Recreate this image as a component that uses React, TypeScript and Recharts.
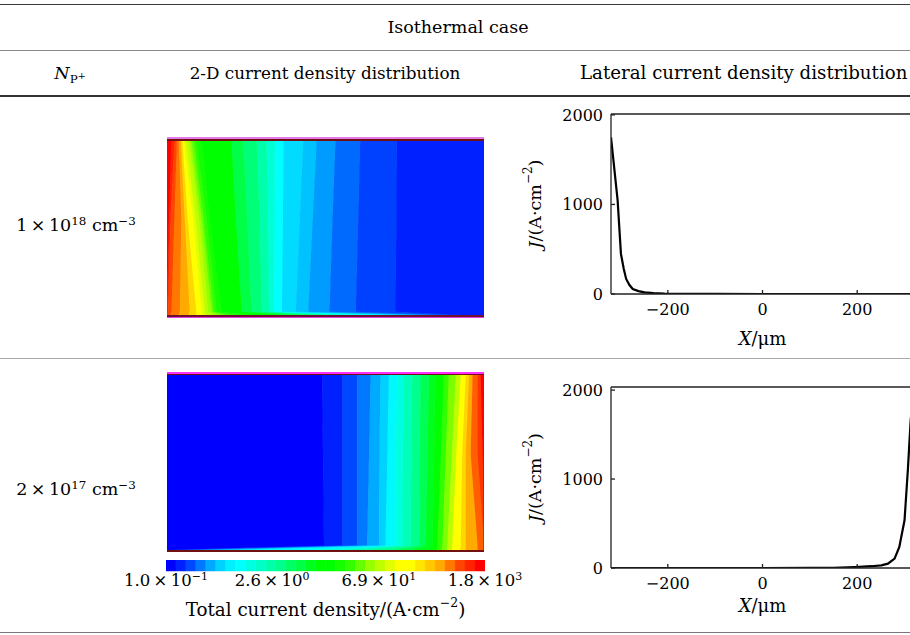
import React from 'react';
import { ComposedChart, BarChart, Area, Bar, Line, XAxis, YAxis, ReferenceLine } from 'recharts';

const SERIF = '"DejaVu Serif", serif';
const INK = '#222';

// contour colour scale, lowest level (blue) first
const LEVEL_COLORS = [
  '#0000ff', '#0020ff', '#0048ff', '#0078ff', '#00aaff', '#00d2ff', '#00f0ff', '#00ffff',
  '#00ffe0', '#00ffc8', '#00ffaa', '#00ff8c', '#00ff64', '#00ff46', '#00ff1e', '#00ff00',
  '#00ff00', '#14ff00', '#32ff00', '#64ff00', '#96ff00', '#beff00', '#e1ff00', '#ffff00',
  '#ffff00', '#ffe600', '#ffc800', '#ffaa00', '#ff7800', '#ff4600', '#ff2300', '#ff0000',
];

// colour bar (A/cm^2, log scale)
const BAR_MIN = 0.1;
const BAR_MAX = 1800;
const BAR_TICKS = [0.1, 2.6, 69, 1800];
const BAR_MANTISSA = ['1.0', '2.6', '6.9', '1.8'];
const BAR_EXPONENT = ['−1', '0', '1', '3'];

// lateral current density, X in um, J in A/cm^2
const X_TICKS = [-200, 0, 200];
const J_TICKS = [0, 1000, 2000];
const X_HIGH = [-320, -306, -299, -293, -288, -281, -274, -262, -249, -230, -207, -180, -150, -100, 0, 100, 200, 320];
const J_HIGH = [1750, 1046, 448, 280, 168, 100, 56, 32, 18, 10, 5, 3, 2, 1, 0, 0, 0, 0];
const X_LOW = [-320, -200, 0, 100, 150, 195, 230, 251, 265, 279, 289, 300, 307, 313, 320];
const J_LOW = [0, 0, 0, 1, 3, 11, 20, 30, 49, 106, 236, 537, 1100, 1663, 2000];

// 2-D maps: depth from top (0) to bottom contact (1)
const DEPTH = [0, 0.45, 0.975, 1];
const HALF = 320;

// N = 1e18: band levels left -> right, right edge of each band (um) per depth row
const MAP1_LEVELS = [31, 30, 29, 28, 27, 25.5, 24, 22, 21, 20, 19, 18, 17, 15.5, 13, 11.5, 10, 8.5, 7, 5.3, 4.6, 3.7, 2.7, 1.8, 1];
const MAP1_EDGES = [
  [-311, -305, -300, -296, -292, -289, -286, -281, -275, -271, -266, -261, -250, -190, -166, -139, -119, -102, -85, -45, -18, 20, 70, 144],
  [-316, -313, -305, -291, -284, -278, -267, -262, -255, -250, -246, -240, -234, -181, -158, -133, -116, -103, -86, -52, -26, 14, 66, 143],
  [-320, -318, -311, -294, -274, -261, -250, -244, -237, -230, -226, -220, -210, -169, -149, -129, -114, -104, -88, -60, -35, 8, 61, 141],
  [-320, -320, -315, -298, -278, -261, -250, -240, -227, -210, -193, -173, -132, -55, -11, 43, 80, 138, 215, 259, 286, 303, 312, 316],
];

// N = 2e17
const MAP2_LEVELS = [0, 1, 2, 3, 4, 5, 6.5, 8, 9.5, 11, 12.5, 14, 16, 18, 19.5, 21, 23.5, 25.5, 27, 28.5, 29.5, 31];
const MAP2_EDGES = [
  [-7, 34, 64, 91, 111, 128, 145, 158, 175, 192, 209, 222, 239, 249, 263, 273, 283, 290, 297, 307, 313],
  [-5, 34, 64, 88, 109, 125, 142, 156, 173, 190, 206, 219, 233, 243, 255, 264, 276, 283, 293, 307, 317],
  [-3, 34, 64, 84, 108, 121, 142, 155, 172, 189, 202, 216, 226, 236, 246, 256, 273, 283, 307, 320, 320],
  [-310, -296, -276, -249, -216, -175, -40, 27, 81, 135, 175, 206, 224, 235, 245, 255, 272, 283, 307, 320, 320],
];

const hexToRgb = (h: string) => [1, 3, 5].map((i) => parseInt(h.slice(i, i + 2), 16));
const levelColor = (lv: number) => {
  const i = Math.min(Math.floor(lv), LEVEL_COLORS.length - 2);
  const f = lv - i;
  const a = hexToRgb(LEVEL_COLORS[i]);
  const b = hexToRgb(LEVEL_COLORS[i + 1]);
  return `rgb(${a.map((v, k) => Math.round(v + (b[k] - v) * f)).join(',')})`;
};

const minus = (v: number) => (v < 0 ? `−${-v}` : `${v}`);

const ContourMap = ({ levels, edges, width, height }: any) => {
  const data = DEPTH.map((t, r) => {
    const row: any = { t };
    let prev = -HALF;
    levels.forEach((_: number, k: number) => {
      const e = k < edges[r].length ? edges[r][k] : HALF;
      row['b' + k] = Math.max(0, e - prev);
      prev = e;
    });
    return row;
  });
  return (
    <ComposedChart layout="vertical" width={width} height={height} data={data} margin={{ top: 0, right: 0, bottom: 0, left: 0 }}>
      <XAxis type="number" domain={[0, 2 * HALF]} allowDataOverflow hide />
      <YAxis type="number" dataKey="t" domain={[0, 1]} allowDataOverflow hide />
      {levels.map((lv: number, k: number) => (
        <Area
          key={k}
          type="linear"
          dataKey={'b' + k}
          stackId="map"
          fill={levelColor(lv)}
          fillOpacity={1}
          stroke={levelColor(lv)}
          strokeWidth={1}
          dot={false}
          activeDot={false}
          isAnimationActive={false}
        />
      ))}
    </ComposedChart>
  );
};

const BarTick = ({ x, y, payload }: any) => {
  const idx = BAR_TICKS.findIndex((v) => Math.abs(Math.log10(v / BAR_MIN) - payload.value) < 1e-6);
  return (
    <text x={x} y={y} dy={12} textAnchor="middle" fontFamily={SERIF} fontSize={16.5} fill="#000">
      <tspan>{BAR_MANTISSA[idx]}{'\u2009×\u2009'}10</tspan>
      <tspan dy={-6} fontSize={11}>{BAR_EXPONENT[idx]}</tspan>
    </text>
  );
};

const BarTitle = ({ viewBox }: any) => (
  <text x={viewBox.x + viewBox.width / 2} y={viewBox.y + 38} textAnchor="middle" dominantBaseline="central" fontFamily={SERIF} fontSize={18.3} fill="#000">
    Total current density/(A·cm
    <tspan dy={-7} fontSize={12.5}>−2</tspan>
    <tspan dy={7}>)</tspan>
  </text>
);

const ColourBar = () => {
  const span = Math.log10(BAR_MAX / BAR_MIN);
  const row: any = { name: 'J' };
  LEVEL_COLORS.forEach((_, i) => (row['s' + i] = span / LEVEL_COLORS.length));
  return (
    <BarChart layout="vertical" width={450} height={72} data={[row]} margin={{ top: 0, right: 65, bottom: 0, left: 66 }} barCategoryGap={0}>
      <XAxis
        type="number"
        domain={[0, span]}
        allowDataOverflow
        ticks={BAR_TICKS.map((v) => Math.log10(v / BAR_MIN))}
        interval={0}
        tick={<BarTick />}
        tickLine={false}
        axisLine={false}
        tickSize={0}
        tickMargin={3}
        height={61}
        label={<BarTitle />}
      />
      <YAxis type="category" dataKey="name" hide />
      {LEVEL_COLORS.map((c, i) => (
        <Bar key={i} dataKey={'s' + i} stackId="cb" fill={c} stroke={c} strokeWidth={0.5} isAnimationActive={false} />
      ))}
    </BarChart>
  );
};

const XTitle = ({ viewBox, gap }: any) => (
  <text x={viewBox.x + viewBox.width / 2} y={viewBox.y + gap} textAnchor="middle" dominantBaseline="central" fontFamily={SERIF} fontSize={18} fill="#000">
    <tspan fontStyle="italic">X</tspan>/μm
  </text>
);

const YTitle = ({ viewBox }: any) => {
  const cx = viewBox.x + 15;
  const cy = viewBox.y + viewBox.height / 2;
  return (
    <text x={cx} y={cy} transform={`rotate(-90 ${cx} ${cy})`} textAnchor="middle" dominantBaseline="central" fontFamily={SERIF} fontSize={17.5} fill="#000">
      <tspan fontStyle="italic">J</tspan>/(A·cm
      <tspan dy={-7} fontSize={12}>−2</tspan>
      <tspan dy={7}>)</tspan>
    </text>
  );
};

const Profile = ({ xs, js, yMax, plotHeight, gap }: any) => {
  const data = xs.map((x: number, i: number) => ({ x, j: js[i] }));
  const tickStyle = { fontFamily: SERIF, fontSize: 16, fill: '#000' };
  return (
    <ComposedChart width={400} height={260} data={data} margin={{ top: 14, right: 6, bottom: 0, left: 0 }}>
      <XAxis
        dataKey="x"
        type="number"
        domain={[-HALF, HALF]}
        allowDataOverflow
        ticks={X_TICKS}
        tickFormatter={minus}
        tickSize={-4}
        tickMargin={14}
        tick={tickStyle}
        stroke={INK}
        strokeWidth={1.3}
        height={260 - 14 - plotHeight}
        label={<XTitle gap={gap} />}
      />
      <YAxis
        type="number"
        domain={[0, yMax]}
        allowDataOverflow
        ticks={J_TICKS}
        tickSize={-4}
        tickMargin={12}
        tick={tickStyle}
        stroke={INK}
        strokeWidth={1.3}
        width={91}
        label={<YTitle />}
      />
      <ReferenceLine y={yMax} stroke={INK} strokeWidth={1.3} />
      <Line dataKey="j" type="linear" stroke="#000" strokeWidth={2.2} dot={false} activeDot={false} isAnimationActive={false} />
    </ComposedChart>
  );
};

const Rule = ({ y, h, c }: any) => (
  <div style={{ position: 'absolute', left: 0, top: y, width: 910, height: h, background: c }} />
);

const Centered = ({ x, y, size = 17.5, children }: any) => (
  <div style={{ position: 'absolute', left: x, top: y, transform: 'translate(-50%, -50%)', whiteSpace: 'nowrap', fontSize: size, lineHeight: 1 }}>
    {children}
  </div>
);

const sup = { fontSize: '0.68em', verticalAlign: '0.5em', lineHeight: 0 } as const;

const Strip = ({ x, y, w, h, c }: any) => (
  <div style={{ position: 'absolute', left: x, top: y, width: w, height: h, background: c }} />
);

export default function App() {
  return (
    <div style={{ position: 'fixed', left: 0, top: 0, width: 910, height: 635, overflow: 'hidden', background: '#fff', fontFamily: SERIF, color: '#000' }}>
      <Rule y={3.5} h={1.6} c="#3a3a3a" />
      <Rule y={49.5} h={1.2} c="#8a8a8a" />
      <Rule y={95.3} h={1.6} c="#333" />
      <Rule y={358} h={1} c="#aaa" />
      <Rule y={631.5} h={1.3} c="#777" />

      <Centered x={458} y={28}>Isothermal case</Centered>
      <Centered x={70} y={74}>
        <i>N</i>
        <span style={{ fontSize: '0.68em', verticalAlign: '-0.3em', lineHeight: 0 }}>
          P<span style={{ fontSize: '0.8em', verticalAlign: '0.5em' }}>+</span>
        </span>
      </Centered>
      <Centered x={325} y={73} size={16.8}>2-D current density distribution</Centered>
      <div style={{ position: 'absolute', left: 580, top: 73, transform: 'translateY(-50%)', whiteSpace: 'nowrap', fontSize: 18.2, lineHeight: 1 }}>
        Lateral current density distribution
      </div>

      <Centered x={76} y={226}>
        1{'\u2009×\u2009'}10<span style={sup}>18</span> cm<span style={sup}>−3</span>
      </Centered>
      <Centered x={76} y={490}>
        2{'\u2009×\u2009'}10<span style={sup}>17</span> cm<span style={sup}>−3</span>
      </Centered>

      {/* 2-D map, N = 1e18 */}
      <Strip x={167} y={137} w={317} h={2} c="#e47ae8" />
      <Strip x={167} y={139} w={317} h={1.6} c="#701010" />
      <div style={{ position: 'absolute', left: 167, top: 140.6 }}>
        <ContourMap levels={MAP1_LEVELS} edges={MAP1_EDGES} width={317} height={175} />
      </div>
      <Strip x={167} y={315.3} w={317} h={1.3} c="#701030" />
      <Strip x={167} y={316.6} w={317} h={1.4} c="#e040e0" />

      {/* 2-D map, N = 2e17 */}
      <Strip x={167} y={371.5} w={317} h={2} c="#ff30ff" />
      <Strip x={167} y={373.5} w={317} h={1.6} c="#701010" />
      <div style={{ position: 'absolute', left: 167, top: 375 }}>
        <ContourMap levels={MAP2_LEVELS} edges={MAP2_EDGES} width={317} height={175} />
      </div>
      <Strip x={167} y={550} w={317} h={1.6} c="#701010" />

      <div style={{ position: 'absolute', left: 100, top: 560 }}>
        <ColourBar />
      </div>

      <div style={{ position: 'absolute', left: 520, top: 100 }}>
        <Profile xs={X_HIGH} js={J_HIGH} yMax={2010} plotHeight={180} gap={44} />
      </div>
      <div style={{ position: 'absolute', left: 520, top: 373 }}>
        <Profile xs={X_LOW} js={J_LOW} yMax={2035} plotHeight={181} gap={37} />
      </div>
    </div>
  );
}
